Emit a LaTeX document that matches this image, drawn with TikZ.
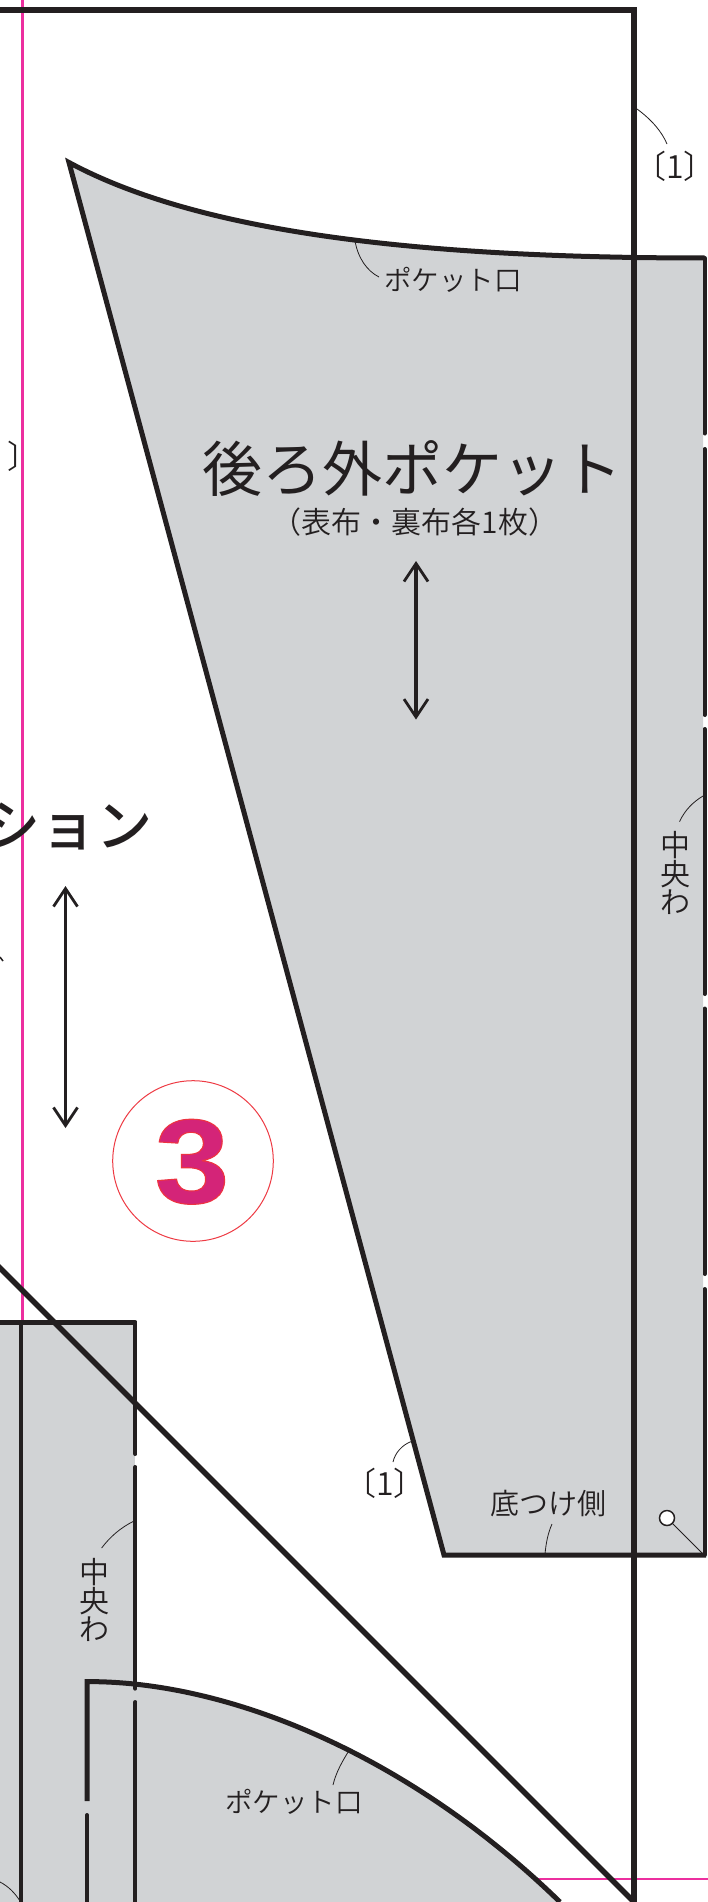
\documentclass[tikz,border=0pt]{standalone}
\usepackage{fontspec}
\usetikzlibrary{arrows.meta}
\IfFontExistsTF{Noto Sans CJK JP DemiLight}{\newfontfamily\jp{Noto Sans CJK JP DemiLight}}{\newfontfamily\jp{Noto Sans CJK JP}}
\newfontfamily\jptitle{Noto Sans CJK JP}
\IfFontExistsTF{Noto Sans CJK JP Medium}{\newfontfamily\jpbold{Noto Sans CJK JP Medium}}{\newfontfamily\jpbold{Noto Sans CJK JP Bold}}
\newfontfamily\numfont[FakeBold=0.9]{Liberation Sans Bold}
\definecolor{ink}{HTML}{231F20}
\definecolor{cloth}{HTML}{D1D3D5}
\definecolor{guide}{HTML}{EC2F9F}
\definecolor{ringred}{HTML}{EE3A43}
\tikzset{
  x=1pt,y=-1pt,
  heavy/.style={draw=ink,line width=5.4pt},
  edge/.style={draw=ink,line width=5pt,line join=miter},
  seam/.style={draw=ink,line width=4pt,line cap=round},
  leader/.style={draw=ink,line width=0.8pt},
  grain/.style={draw=ink,line width=3.2pt,{Straight Barb[length=18pt,width=24pt,line width=2.8pt]}-{Straight Barb[length=18pt,width=24pt,line width=2.8pt]}},
  lab/.style={text=ink,inner sep=0pt,anchor=center,font=\jp\fontsize{27.5}{28.5}\selectfont,align=center},
  vlab/.style={lab,font=\jp\fontsize{30}{28.5}\selectfont},
  blab/.style={lab,font=\jp\fontsize{32}{32}\selectfont},
}
\begin{document}
\begin{tikzpicture}
\useasboundingbox (0,0) rectangle (708,1902);
\fill[white] (0,0) rectangle (708,1902);
% guide lines
\draw[guide,line width=2.4pt] (22.5,0) -- (22.5,1330);
\draw[guide,line width=2.8pt] (520,1879) -- (708,1879);
% cloth
\fill[cloth] (69,162.5) .. controls (200,233) and (420,258) .. (703,258) -- (703,1555) -- (444,1555) -- cycle;
\fill[cloth] (0,1322) rectangle (135.4,1902);
\fill[cloth] (87,1681.6) .. controls (230,1681) and (410,1756) .. (560,1902) -- (87,1902) -- cycle;
% pocket outline
\draw[edge] (704.5,258) .. controls (420,258) and (200,233) .. (69,162.5) -- (444,1555) -- (706,1555);
\draw[seam] (704.5,258) -- (704.5,433.5);
\draw[seam] (704.5,449) -- (704.5,715);
\draw[seam] (704.5,729) -- (704.5,994);
\draw[seam] (704.5,1008.5) -- (704.5,1274);
\draw[seam] (704.5,1289) -- (704.5,1555);
% frame
\draw[heavy] (-5,10.2) -- (634,10.2) -- (634,1902);
\draw[heavy] (-20,1248) -- (634,1902);
% lower blocks
\draw[edge] (0,1322) -- (135.4,1322);
\draw[seam] (21.2,1322) -- (21.2,1902);
\draw[seam] (135.4,1322) -- (135.4,1454);
\draw[seam] (135.4,1467) -- (135.4,1688.6);
\draw[seam] (135.4,1702) -- (135.4,1902);
\draw[edge] (87,1801) -- (87,1681.6) .. controls (230,1681) and (410,1756) .. (560,1902);
\draw[seam] (87,1815) -- (87,1902);
% pin mark
\coordinate (pincorner) at (703,1554);
\node[circle,draw=ink,fill=white,line width=1.5pt,minimum size=15pt,inner sep=0pt] (pin) at (667,1518) {};
\draw[leader,line width=1pt] (pin) -- (pincorner);
% grain arrows
\coordinate (ga) at (416,561); \coordinate (gb) at (416,719.6);
\draw[grain] (ga) -- (gb);
\coordinate (gc) at (65.5,886); \coordinate (gd) at (65.5,1128);
\draw[grain] (gc) -- (gd);
\coordinate (tipa) at (0,957); \coordinate (tipb) at (3,961);
\draw[draw=ink,line width=1.5pt] (tipa) -- (tipb);
% leaders
\draw[leader] (637,109) .. controls (652,120) and (662,132) .. (667,144);
\draw[leader] (355,241) .. controls (358,258) and (367,271) .. (379,277);
\draw[leader] (411,1441.6) .. controls (402,1445) and (395,1453) .. (393,1462);
\draw[leader] (545,1554) .. controls (546,1543) and (548,1533) .. (552,1524);
\draw[leader] (703,796) .. controls (693,802) and (685,810) .. (679.5,821.6);
\draw[leader] (134,1521) .. controls (120,1528) and (110,1537) .. (101.6,1548);
\draw[leader] (350,1749) .. controls (343,1760) and (336,1772) .. (333,1785);
\draw[leader] (0,1882) .. controls (8,1886) and (15,1893) .. (20,1901);
% number
\node[circle,draw=ringred,line width=1pt,minimum size=160.6pt,inner sep=0pt] (ring) at (193,1161) {};
\node[inner sep=0pt,anchor=base,xscale=1.12] (num) at (192,1203) {\numfont\fontsize{120}{120}\selectfont\special{pdf:bc [0.83 0.14 0.47] [0.93 0.2 0.26]}3\special{pdf:ec}};
% labels
\node[lab,font=\jptitle\fontsize{60}{60}\selectfont] (title) at (412,469) {後ろ外ポケット};
\node[lab,font=\jp\fontsize{30}{30}\selectfont] (sub) at (415,522) {（表布・裏布各1枚）};
\node[lab,font=\jpbold\fontsize{56}{56}\selectfont] (cutname) at (68,826) {ション};
\node[lab] (p1) at (453,280) {ポケット口};
\node[lab] (p2) at (294,1802) {ポケット口};
\node[blab] (b1) at (670,166.5) {〔1〕\hspace{-10pt}};
\node[blab] (b2) at (385,1483) {〔1〕};
\node[blab] (b3) at (24,456) {〕};
\node[lab,font=\jp\fontsize{29}{29}\selectfont] (soko) at (548,1503.5) {底つけ側};
\node[vlab] (w1) at (675,873) {中\\央\\わ};
\node[vlab] (w2) at (94,1600) {中\\央\\わ};
\end{tikzpicture}
\end{document}
